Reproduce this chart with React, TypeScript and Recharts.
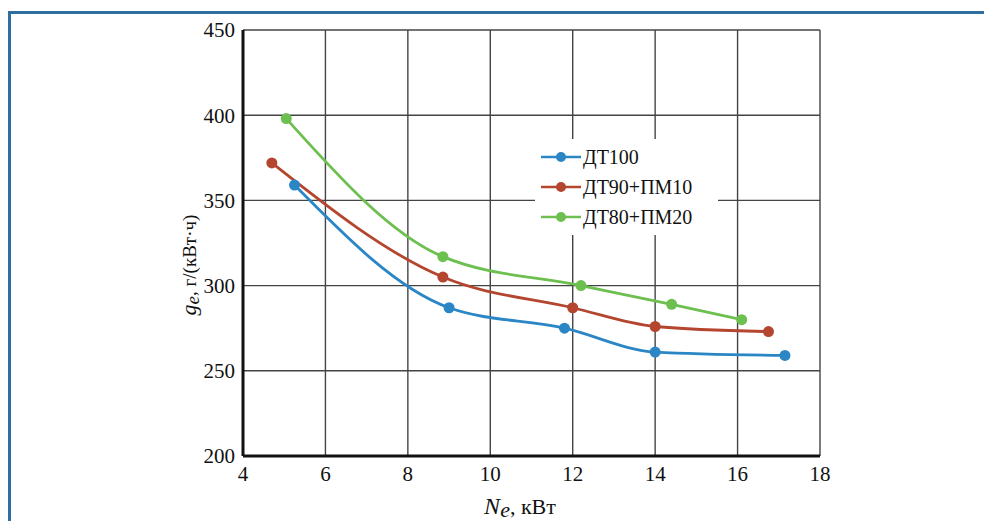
import {
  CartesianGrid,
  Label,
  Legend,
  Line,
  LineChart,
  XAxis,
  YAxis,
} from 'recharts';

// N_e, kW  /  g_e, g/(kW·h)
const dt100X = [5.25, 9.0, 11.8, 14.0, 17.15];
const dt100Y = [359, 287, 275, 261, 259];

const dt90X = [4.7, 8.85, 12.0, 14.0, 16.75];
const dt90Y = [372, 305, 287, 276, 273];

const dt80X = [5.05, 8.85, 12.2, 14.4, 16.1];
const dt80Y = [398, 317, 300, 289, 280];

const xTicks = [4, 6, 8, 10, 12, 14, 16, 18];
const yTicks = [200, 250, 300, 350, 400, 450];

const SERIES = [
  { name: 'ДТ100', xs: dt100X, ys: dt100Y, color: '#2b86c5' },
  { name: 'ДТ90+ПМ10', xs: dt90X, ys: dt90Y, color: '#b4452e' },
  { name: 'ДТ80+ПМ20', xs: dt80X, ys: dt80Y, color: '#6dbf4f' },
];

const FONT = "'Liberation Serif', 'Times New Roman', serif";

function toPoints(xs: number[], ys: number[]) {
  return xs.map((x, i) => ({ x, y: ys[i] }));
}

function LegendBox() {
  return (
    <div style={{ background: '#fff', padding: '3px 0 3px 6px', fontFamily: FONT, fontSize: 20 }}>
      {SERIES.map((s) => (
        <div key={s.name} style={{ display: 'flex', alignItems: 'center', height: 30 }}>
          <svg width={40} height={12} style={{ marginRight: 2 }}>
            <line x1={0} y1={6} x2={40} y2={6} stroke={s.color} strokeWidth={2.5} />
            <circle cx={20} cy={6} r={5} fill={s.color} />
          </svg>
          <span style={{ color: '#111', fontFamily: FONT }}>{s.name}</span>
        </div>
      ))}
    </div>
  );
}

function XTitle() {
  return (
    <text x={520} y={514} textAnchor="middle" fontFamily={FONT} fontSize={22} fill="#111">
      <tspan fontStyle="italic" fontSize={24}>N</tspan>
      <tspan fontStyle="italic" fontSize={22} dy={3}>e</tspan>
      <tspan dy={-3}>, кВт</tspan>
    </text>
  );
}

function YTitle() {
  const cy = 265;
  const cx = 196;
  return (
    <text
      x={cx}
      y={cy}
      textAnchor="middle"
      transform={`rotate(-90 ${cx} ${cy})`}
      fontFamily={FONT}
      fontSize={19}
      fill="#111"
    >
      <tspan fontStyle="italic" fontSize={22}>g</tspan>
      <tspan fontStyle="italic" fontSize={19} dy={3}>e</tspan>
      <tspan dy={-3}>, г/(кВт·ч)</tspan>
    </text>
  );
}

export default function App() {
  return (
    <div style={{ position: 'fixed', left: 0, top: 0, width: 984, height: 521, background: '#fff', overflow: 'hidden', fontFamily: FONT }}>
      <div
        style={{
          position: 'absolute',
          left: 8,
          top: 11,
          width: 1000,
          height: 600,
          borderTop: '3px solid #2f6f9f',
          borderLeft: '3px solid #2f6f9f',
        }}
      />
      <div style={{ position: 'absolute', left: 0, top: 0 }}>
        <LineChart width={984} height={521} margin={{ top: 30, right: 164, bottom: 35, left: 183 }}>
          <CartesianGrid stroke="#444" strokeWidth={1.4} />
          <XAxis
            type="number"
            dataKey="x"
            domain={[4, 18]}
            ticks={xTicks}
            allowDataOverflow
            height={30}
            tickLine={false}
            tickMargin={4}
            axisLine={{ stroke: '#111', strokeWidth: 3 }}
            tick={{ fill: '#111', fontFamily: FONT, fontSize: 21 }}
          >
            <Label content={<XTitle />} />
          </XAxis>
          <YAxis
            type="number"
            domain={[200, 450]}
            ticks={yTicks}
            width={60}
            tickLine={false}
            tickMargin={2}
            axisLine={{ stroke: '#111', strokeWidth: 3 }}
            tick={{ fill: '#111', fontFamily: FONT, fontSize: 21 }}
          >
            <Label content={<YTitle />} />
          </YAxis>
          {SERIES.map((s) => (
            <Line
              key={s.name}
              data={toPoints(s.xs, s.ys)}
              dataKey="y"
              name={s.name}
              type="monotone"
              stroke={s.color}
              strokeWidth={2.8}
              dot={{ r: 5.5, fill: s.color, stroke: s.color, strokeWidth: 0 }}
              isAnimationActive={false}
            />
          ))}
          <Legend
            layout="vertical"
            align="center"
            verticalAlign="middle"
            content={<LegendBox />}
            wrapperStyle={{ left: 535, top: 139, width: 183 }}
          />
        </LineChart>
      </div>
    </div>
  );
}
